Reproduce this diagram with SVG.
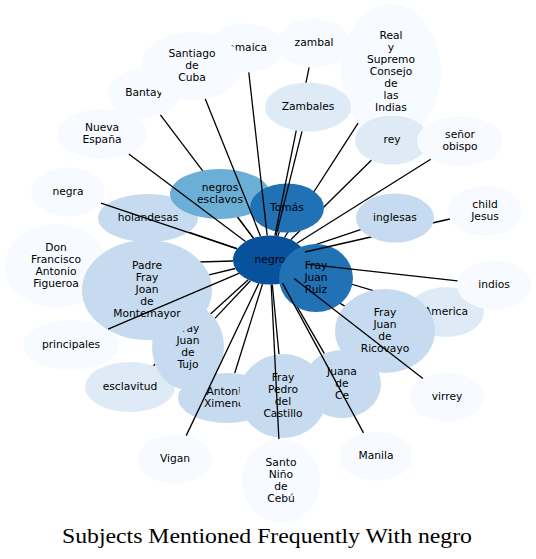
<svg xmlns="http://www.w3.org/2000/svg" width="536" height="559" viewBox="0 0 536 559">
<style>
text{font-family:"DejaVu Sans",sans-serif;font-size:10.7px;text-anchor:middle;fill:#000}
.c0{fill:#f7fbff}.c1{fill:#deebf7}.c2{fill:#c6dbef}.c3{fill:#6baed6}.c4{fill:#2171b5}.c5{fill:#08519c}
.e line{stroke:#000;stroke-width:1.3;fill:none}
.title{font-family:"Liberation Serif","DejaVu Serif",serif;font-size:20px}
</style>
<rect width="536" height="559" fill="#fff"/>
<g id="nodes-back">
<g id="n-jamaica"><ellipse class="c0" cx="246" cy="48" rx="37" ry="24.5"/><text x="246" y="50.5">Jamaica</text></g>
<g id="n-bantay"><ellipse class="c0" cx="144" cy="93" rx="36" ry="24.5"/><text x="144" y="95.5">Bantay</text></g>
<g id="n-santiago"><ellipse class="c0" cx="192" cy="66" rx="50" ry="34"/><text x="192" y="56.5">Santiago</text><text x="192" y="68.5">de</text><text x="192" y="80.5">Cuba</text></g>
<g id="n-zambal"><ellipse class="c0" cx="314" cy="43" rx="36" ry="24.5"/><text x="314" y="45.5">zambal</text></g>
<g id="n-real"><ellipse class="c0" cx="391" cy="72" rx="50" ry="68"/><text x="391" y="38.5">Real</text><text x="391" y="50.5">y</text><text x="391" y="62.5">Supremo</text><text x="391" y="74.5">Consejo</text><text x="391" y="86.5">de</text><text x="391" y="98.5">las</text><text x="391" y="110.5">Indias</text></g>
<g id="n-rey"><ellipse class="c1" cx="392" cy="140" rx="37" ry="24.5"/><text x="392" y="142.5">rey</text></g>
<g id="n-senor"><ellipse class="c0" cx="460" cy="141" rx="43" ry="25"/><text x="460" y="137.5">señor</text><text x="460" y="149.5">obispo</text></g>
<g id="n-nueva"><ellipse class="c0" cx="102" cy="134" rx="45" ry="25"/><text x="102" y="130.5">Nueva</text><text x="102" y="142.5">España</text></g>
<g id="n-negra"><ellipse class="c0" cx="68" cy="192" rx="37" ry="24.5"/><text x="68" y="194.5">negra</text></g>
<g id="n-donfrancisco"><ellipse class="c0" cx="56" cy="266" rx="51" ry="42"/><text x="56" y="250.5">Don</text><text x="56" y="262.5">Francisco</text><text x="56" y="274.5">Antonio</text><text x="56" y="286.5">Figueroa</text></g>
<g id="n-principales"><ellipse class="c0" cx="71" cy="345" rx="48" ry="25"/><text x="71" y="347.5">principales</text></g>
<g id="n-esclavitud"><ellipse class="c1" cx="130" cy="387" rx="45" ry="25"/><text x="130" y="389.5">esclavitud</text></g>
<g id="n-vigan"><ellipse class="c0" cx="175" cy="459" rx="37" ry="24.5"/><text x="175" y="461.5">Vigan</text></g>
<g id="n-santonino"><ellipse class="c0" cx="281" cy="481" rx="39" ry="42"/><text x="281" y="465.5">Santo</text><text x="281" y="477.5">Niño</text><text x="281" y="489.5">de</text><text x="281" y="501.5">Cebú</text></g>
<g id="n-manila"><ellipse class="c0" cx="376" cy="456" rx="37" ry="24.5"/><text x="376" y="458.5">Manila</text></g>
<g id="n-virrey"><ellipse class="c0" cx="447" cy="397" rx="37" ry="24.5"/><text x="447" y="399.5">virrey</text></g>
<g id="n-america"><ellipse class="c1" cx="446" cy="312" rx="38" ry="25"/><text x="446" y="314.5">America</text></g>
<g id="n-indios"><ellipse class="c0" cx="494" cy="285" rx="37" ry="24.5"/><text x="494" y="287.5">indios</text></g>
<g id="n-childjesus"><ellipse class="c0" cx="485" cy="211" rx="37" ry="25"/><text x="485" y="207.5">child</text><text x="485" y="219.5">Jesus</text></g>
</g>
<g id="edges-under" class="e">
<line x1="253.5" y1="238.1" x2="160.4" y2="114.8"/>
<line x1="284.5" y1="237.5" x2="358.1" y2="123.2"/>
<line x1="290.7" y1="239.7" x2="371.3" y2="160.3"/>
<line x1="233" y1="261" x2="107" y2="264.6"/>
<line x1="248.2" y1="279.8" x2="153.5" y2="365.7"/>
<line x1="303.8" y1="270" x2="411.3" y2="301.8"/>
<line x1="297.1" y1="276.7" x2="344.7" y2="306.1"/>
<line x1="277.8" y1="236.1" x2="279.2" y2="232"/>
<line x1="253.4" y1="238.1" x2="237.7" y2="217.4"/>
<line x1="237.2" y1="248.7" x2="188.6" y2="232"/>
<line x1="235.3" y1="268.5" x2="209" y2="274.9"/>
<line x1="250.4" y1="280.8" x2="214.9" y2="318.4"/>
<line x1="272.3" y1="284.5" x2="279" y2="354.2"/>
<line x1="283.3" y1="282.9" x2="324.4" y2="353.7"/>
<line x1="262.5" y1="284" x2="234.7" y2="373.3"/>
<line x1="303" y1="248.9" x2="360.6" y2="229.6"/>
<line x1="296.9" y1="243.2" x2="430.7" y2="159.3"/>
</g>
<g id="nodes-mid">
<g id="n-holandesas"><ellipse class="c2" cx="148" cy="218" rx="50" ry="24"/><text x="148" y="220.5">holandesas</text></g>
<g id="n-negrosesclavos"><ellipse class="c3" cx="220" cy="194" rx="50" ry="25"/><text x="220" y="190.5">negros</text><text x="220" y="202.5">esclavos</text></g>
<g id="n-tomas"><ellipse class="c4" cx="287" cy="208" rx="37" ry="24.5"/><text x="287" y="210.5">Tomás</text></g>
<g id="n-tujo"><ellipse class="c2" cx="188" cy="347" rx="36" ry="43"/><text x="188" y="331.5">Fray</text><text x="188" y="343.5">Juan</text><text x="188" y="355.5">de</text><text x="188" y="367.5">Tujo</text></g>
<g id="n-padre"><ellipse class="c2" cx="147" cy="290" rx="65" ry="50"/><text x="147" y="268.5">Padre</text><text x="147" y="280.5">Fray</text><text x="147" y="292.5">Joan</text><text x="147" y="304.5">de</text><text x="147" y="316.5">Montemayor</text></g>
<g id="n-antonio"><ellipse class="c2" cx="227" cy="398" rx="49" ry="25"/><text x="227" y="394.5">Antonio</text><text x="227" y="406.5">Ximenez</text></g>
<g id="n-frypedro"><ellipse class="c2" cx="283" cy="396" rx="44" ry="42"/><text x="283" y="380.5">Fray</text><text x="283" y="392.5">Pedro</text><text x="283" y="404.5">del</text><text x="283" y="416.5">Castillo</text></g>
<g id="n-juana"><ellipse class="c2" cx="342" cy="384" rx="39" ry="34"/><text x="342" y="374.5">Juana</text><text x="342" y="386.5">de</text><text x="342" y="398.5">Ce</text></g>
<g id="n-ricovayo"><ellipse class="c2" cx="385" cy="331" rx="50" ry="42"/><text x="385" y="315.5">Fray</text><text x="385" y="327.5">Juan</text><text x="385" y="339.5">de</text><text x="385" y="351.5">Ricovayo</text></g>
<g id="n-negro"><ellipse class="c5" cx="270" cy="260" rx="37" ry="24.5"/><text x="270" y="262.5">negro</text></g>
<g id="n-fjruiz"><ellipse class="c4" cx="316" cy="278" rx="37" ry="34"/><text x="316" y="268.5">Fray</text><text x="316" y="280.5">Juan</text><text x="316" y="292.5">Ruiz</text></g>
</g>
<g id="edges-mid" class="e">
<line x1="274.9" y1="235.7" x2="309.1" y2="67.3"/>
</g>
<g id="n-zambales"><ellipse class="c1" cx="308" cy="107" rx="43" ry="24.5"/><text x="308" y="109.5">Zambales</text></g>
<g id="edges-over" class="e">
<line x1="276" y1="235.8" x2="302" y2="131.3"/>
<line x1="267.2" y1="235.6" x2="248.8" y2="72.4"/>
<line x1="260.5" y1="236.3" x2="205.2" y2="98.8"/>
<line x1="245.5" y1="241.6" x2="128.8" y2="154.1"/>
<line x1="237" y1="248.9" x2="101" y2="203.1"/>
<line x1="238.9" y1="273.3" x2="108.1" y2="329.1"/>
<line x1="258.8" y1="283.4" x2="186.2" y2="435.6"/>
<line x1="271.2" y1="284.5" x2="278.9" y2="439.1"/>
<line x1="282.5" y1="283.1" x2="363.5" y2="432.9"/>
<line x1="294.1" y1="278.6" x2="422.9" y2="378.4"/>
<line x1="306.5" y1="264.1" x2="457.5" y2="280.9"/>
<line x1="305" y1="252" x2="449.9" y2="219"/>
</g>
<g id="n-inglesas"><ellipse class="c2" cx="395" cy="218" rx="39" ry="24.5"/><text x="395" y="220.5">inglesas</text></g>
<text class="title" x="267" y="543" textLength="410" lengthAdjust="spacingAndGlyphs">Subjects Mentioned Frequently With negro</text>
</svg>
